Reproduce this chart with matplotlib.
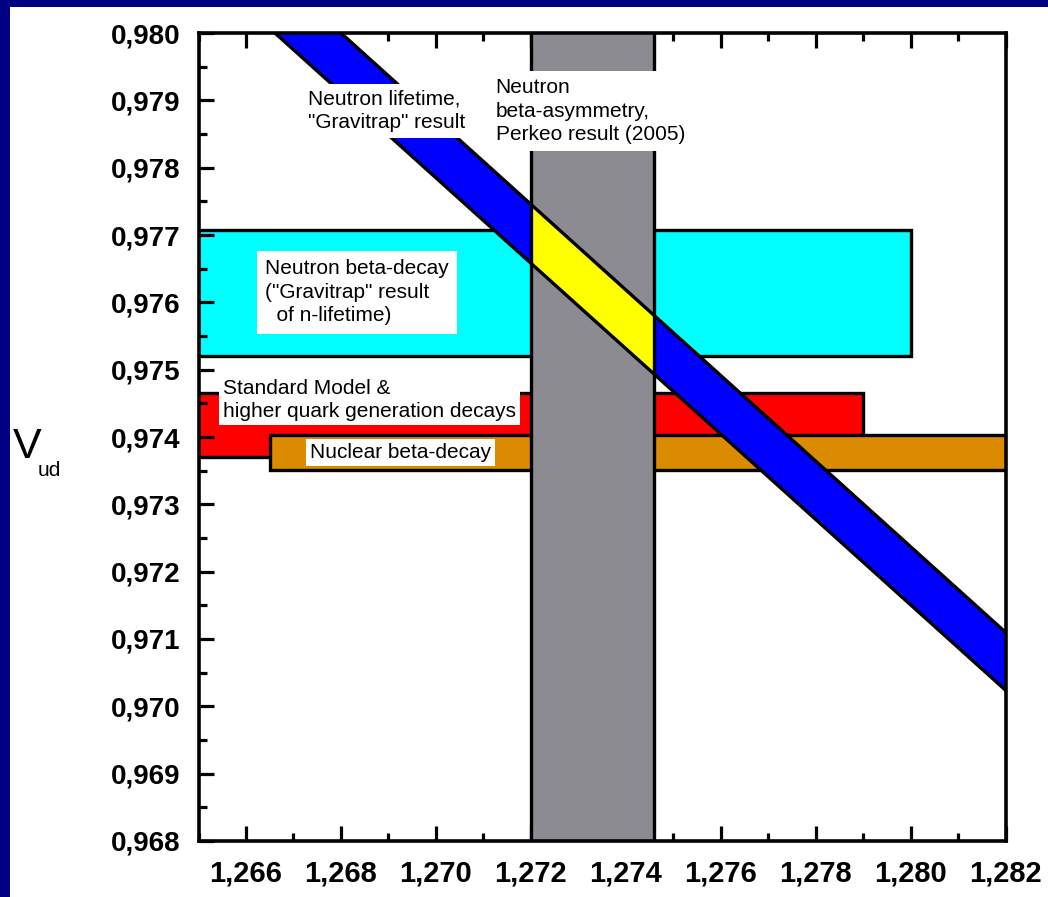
import numpy as np
import matplotlib.pyplot as plt
from matplotlib.patches import Rectangle, Polygon
from matplotlib.ticker import MultipleLocator, FuncFormatter

plt.rcParams['font.family'] = ['Liberation Sans', 'DejaVu Sans']

# data
gray_band = [1.2720, 1.2746]                 # Perkeo beta-asymmetry (x range)
cyan_box = [1.2640, 1.2800, 0.97521, 0.97707]  # x0, x1, y0, y1
red_box = [1.2640, 1.2790, 0.97371, 0.97466]
orange_box = [1.2665, 1.2830, 0.97351, 0.97403]
lineA_x = [1.26661, 1.2820]
lineA_y = [0.98000, 0.97024]
lineB_x = [1.26800, 1.2820]
lineB_y = [0.98000, 0.97110]

x_ticks = [1.266, 1.268, 1.270, 1.272, 1.274, 1.276, 1.278, 1.280, 1.282]
y_ticks = [0.968, 0.969, 0.970, 0.971, 0.972, 0.973, 0.974, 0.975, 0.976, 0.977, 0.978, 0.979, 0.980]

W, H = 1048, 897
fig = plt.figure(figsize=(W / 100, H / 100), dpi=100, facecolor='#000080')
fig.add_artist(Rectangle((10 / W, 0), 1 - 10 / W, 1 - 7 / H, transform=fig.transFigure,
                         facecolor='white', edgecolor='none', zorder=0))

ax = fig.add_axes([198.5 / W, 1 - 841 / H, 807 / W, 808 / H])
ax.set_xlim(1.265, 1.282)
ax.set_ylim(0.968, 0.980)

lw = 2.4
def box(b, color, z):
    ax.add_patch(Rectangle((b[0], b[2]), b[1] - b[0], b[3] - b[2], facecolor=color,
                           edgecolor='black', lw=lw, zorder=z))

box(cyan_box, '#00ffff', 1)
box(red_box, '#ff0000', 1.1)
box(orange_box, '#db8b00', 1.2)

gray = Rectangle((gray_band[0], 0.960), gray_band[1] - gray_band[0], 0.03,
                 facecolor='#8c8b91', edgecolor='none', zorder=2)
ax.add_patch(gray)

band_pts = list(zip(lineA_x, lineA_y)) + list(zip(lineB_x, lineB_y))[::-1]
ax.add_patch(Polygon(band_pts, closed=True, facecolor='#0000ff', edgecolor='none', zorder=3))
yel = Polygon(band_pts, closed=True, facecolor='#ffff00', edgecolor='none', zorder=4)
ax.add_patch(yel)
yel.set_clip_path(gray)

ax.plot(lineA_x, lineA_y, color='black', lw=lw, zorder=5)
ax.plot(lineB_x, lineB_y, color='black', lw=lw, zorder=5)
for gx in gray_band:
    ax.axvline(gx, color='black', lw=lw, zorder=5)

fs = 15
ls = 1.3
ax.text(1.26731, 0.97884, 'Neutron lifetime,\n"Gravitrap" result', fontsize=fs,
        va='center', ha='left', zorder=10, linespacing=ls,
        bbox=dict(facecolor='white', edgecolor='none', pad=4))
ax.text(1.27126, 0.97884, 'Neutron\nbeta-asymmetry,\nPerkeo result (2005)', fontsize=fs,
        va='center', ha='left', zorder=10, linespacing=ls,
        bbox=dict(facecolor='white', edgecolor='none', pad=5))
ax.text(1.26640, 0.97615, 'Neutron beta-decay\n("Gravitrap" result\n  of n-lifetime)', fontsize=fs,
        va='center', ha='left', zorder=10, linespacing=ls,
        bbox=dict(facecolor='white', edgecolor='none', pad=6))
ax.text(1.26552, 0.97455, 'Standard Model &\nhigher quark generation decays', fontsize=fs,
        va='center', ha='left', zorder=10, linespacing=ls,
        bbox=dict(facecolor='white', edgecolor='none', pad=3))
ax.text(1.26735, 0.97377, 'Nuclear beta-decay', fontsize=fs,
        va='center', ha='left', zorder=10,
        bbox=dict(facecolor='white', edgecolor='none', pad=3))

ax.set_xticks(x_ticks)
ax.set_yticks(y_ticks)
ax.xaxis.set_minor_locator(MultipleLocator(0.001))
ax.yaxis.set_minor_locator(MultipleLocator(0.0005))
ax.xaxis.set_major_formatter(FuncFormatter(lambda v, p: f'{v:.3f}'.replace('.', ',')))
ax.yaxis.set_major_formatter(FuncFormatter(lambda v, p: f'{v:.3f}'.replace('.', ',')))
ax.tick_params(axis='x', which='both', direction='in', top=True, bottom=True, width=2.3, pad=13)
ax.tick_params(axis='y', which='both', direction='in', left=True, right=False, width=2.3, pad=13)
ax.tick_params(which='major', length=11)
ax.tick_params(which='minor', length=6)
for lab in ax.get_xticklabels():
    lab.set_fontsize(21)
    lab.set_fontweight('bold')
for lab in ax.get_yticklabels():
    lab.set_fontsize(20)
    lab.set_fontweight('bold')
for s in ax.spines.values():
    s.set_linewidth(2.6)
    s.set_zorder(20)

fig.text(13 / W, 1 - 447 / H, 'V', fontsize=31, va='center', ha='left')
fig.text(38 / W, 1 - 476 / H, 'ud', fontsize=15, va='baseline', ha='left')

fig.savefig('out.png', dpi=100, facecolor=fig.get_facecolor())
